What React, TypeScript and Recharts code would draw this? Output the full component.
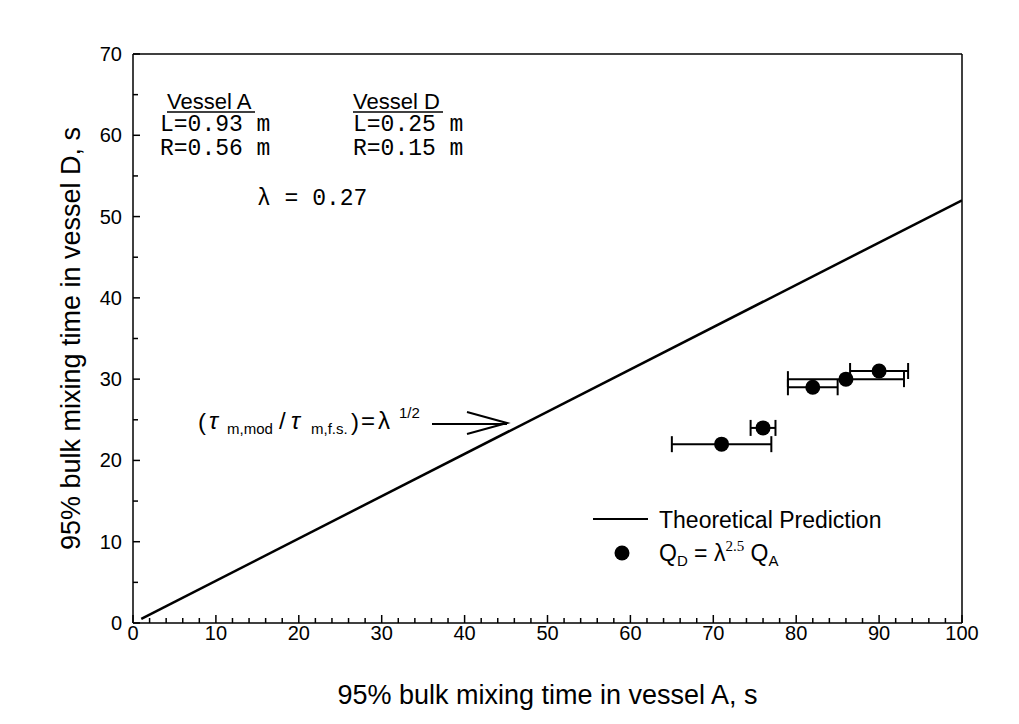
import {
  ComposedChart,
  Scatter,
  XAxis,
  YAxis,
  ErrorBar,
  Legend,
  Customized,
  ReferenceLine,
} from "recharts";

// measured points (vessel A time vs vessel D time)
const timeA = [71, 76, 82, 86, 90];
const timeD = [22, 24, 29, 30, 31];
const timeALow = [65, 74.5, 79, 79, 86.5];
const timeAHigh = [77, 77.5, 85, 93, 93.5];

// theoretical prediction line
const theoryA = [1, 100];
const theoryD = [0.52, 52];

const xMajor = [0, 10, 20, 30, 40, 50, 60, 70, 80, 90, 100];
const yMajor = [0, 10, 20, 30, 40, 50, 60, 70];
const xTicks = Array.from({ length: 51 }, (_, i) => i * 2);
const yTicks = Array.from({ length: 15 }, (_, i) => i * 5);

const points = timeA.map((a, i) => ({
  a,
  d: timeD[i],
  err: [a - timeALow[i], timeAHigh[i] - a],
}));
const theory = theoryA.map((a, i) => ({ a, d: theoryD[i] }));

const FONT = "'Liberation Sans', Arial, sans-serif";
const MONO = "'Liberation Mono', 'Courier New', monospace";

const W = 1003;
const H = 708;
const M = { top: 46, right: 49, bottom: 0, left: 0 };
const Y_AXIS_W = 125;
const X_AXIS_H = 93;
const AXIS_X = M.left + Y_AXIS_W;
const AXIS_Y = H - M.bottom - X_AXIS_H;

function XTick({ x, payload }: any) {
  const v = payload.value;
  const major = xMajor.includes(v);
  return (
    <g>
      <line x1={x} x2={x} y1={AXIS_Y} y2={AXIS_Y - (major ? 8 : 5)} stroke="#000" strokeWidth={1.5} />
      {major && (
        <text x={x} y={AXIS_Y + 17} textAnchor="middle" fontSize={20} fill="#000">
          {v}
        </text>
      )}
    </g>
  );
}

function YTick({ y, payload }: any) {
  const v = payload.value;
  const major = yMajor.includes(v);
  return (
    <g>
      <line x1={AXIS_X} x2={AXIS_X + (major ? 7 : 5)} y1={y} y2={y} stroke="#000" strokeWidth={1.5} />
      {major && (
        <text x={AXIS_X - 11} y={y + 7} textAnchor="end" fontSize={20} fill="#000">
          {v}
        </text>
      )}
    </g>
  );
}

function Annotations() {
  return (
    <g fill="#000">
      <text x={159} y={101} fontSize={22} fontFamily={FONT}>Vessel A</text>
      <line x1={159} x2={247} y1={104} y2={104} stroke="#000" strokeWidth={1.5} />
      <text x={345} y={101} fontSize={22} fontFamily={FONT}>Vessel D</text>
      <line x1={345} x2={435} y1={104} y2={104} stroke="#000" strokeWidth={1.5} />
      <text x={152} y={123} fontSize={23} fontFamily={MONO}>L=0.93 m</text>
      <text x={152} y={147} fontSize={23} fontFamily={MONO}>R=0.56 m</text>
      <text x={345} y={123} fontSize={23} fontFamily={MONO}>L=0.25 m</text>
      <text x={345} y={147} fontSize={23} fontFamily={MONO}>R=0.15 m</text>
      <text x={249} y={197} fontSize={23} fontFamily={MONO}>λ = 0.27</text>

      <g fontFamily={FONT}>
        <text x={190} y={422} fontSize={24}>(</text>
        <text x={201} y={421} fontSize={24} fontStyle="italic">τ</text>
        <text x={219} y={426} fontSize={15}>m,mod</text>
        <text x={271} y={421} fontSize={24}>/</text>
        <text x={283} y={421} fontSize={24} fontStyle="italic">τ</text>
        <text x={303} y={426} fontSize={15}>m,f.s.</text>
        <text x={343} y={422} fontSize={24}>)</text>
        <text x={353} y={421} fontSize={24}>=</text>
        <text x={370} y={421} fontSize={24}>λ</text>
        <text x={391} y={410} fontSize={15}>1/2</text>
      </g>
      <line x1={424} x2={499} y1={416} y2={416} stroke="#000" strokeWidth={2} />
      <polyline points="459,404 499,415 459,426" fill="none" stroke="#000" strokeWidth={2} />
    </g>
  );
}

function LegendBox() {
  return (
    <svg width={320} height={70} style={{ fontFamily: FONT }}>
      <line x1={3} x2={58} y1={14} y2={14} stroke="#000" strokeWidth={2} />
      <text x={69} y={23} fontSize={23} fill="#000">Theoretical Prediction</text>
      <circle cx={32} cy={48} r={7.5} fill="#000" />
      <text x={69} y={56} fontSize={23} fill="#000">
        Q<tspan fontSize={15} dy={5}>D</tspan>
        <tspan dy={-5}> = λ</tspan>
        <tspan fontSize={15} dy={-10} fontFamily="'Liberation Serif', serif">2.5</tspan>
        <tspan dy={10}> Q</tspan>
        <tspan fontSize={15} dy={5}>A</tspan>
      </text>
    </svg>
  );
}

const noDot = () => <g />;

export default function App() {
  return (
    <div style={{ width: W, height: H, fontFamily: FONT, background: "#fff" }}>
      <ComposedChart width={W} height={H} margin={M}>
        <XAxis
          dataKey="a"
          type="number"
          domain={[0, 100]}
          ticks={xTicks}
          interval={0}
          tickSize={0}
          tickMargin={0}
          tick={<XTick />}
          height={X_AXIS_H}
          axisLine={{ stroke: "#000", strokeWidth: 1.5 }}
          allowDataOverflow
          label={{
            value: "95% bulk mixing time in vessel A, s",
            position: "insideBottom",
            offset: 12,
            fontSize: 27,
            fill: "#000",
          }}
        />
        <YAxis
          dataKey="d"
          type="number"
          domain={[0, 70]}
          ticks={yTicks}
          interval={0}
          tickSize={0}
          tickMargin={0}
          tick={<YTick />}
          width={Y_AXIS_W}
          axisLine={{ stroke: "#000", strokeWidth: 1.5 }}
          allowDataOverflow
          label={{
            value: "95% bulk mixing time in vessel D, s",
            angle: -90,
            position: "center",
            fontSize: 27,
            fill: "#000",
          }}
        />
        <ReferenceLine x={100} stroke="#000" strokeWidth={1.5} />
        <ReferenceLine y={70} stroke="#000" strokeWidth={1.5} />
        <Scatter
          data={theory}
          line={{ stroke: "#000", strokeWidth: 2.5 }}
          shape={noDot}
          isAnimationActive={false}
        />
        <Scatter
          data={points}
          fill="#000"
          isAnimationActive={false}
          shape={(p: any) => <circle cx={p.cx} cy={p.cy} r={7.5} fill="#000" />}
        >
          <ErrorBar dataKey="err" direction="x" width={8} strokeWidth={2} stroke="#000" />
        </Scatter>
        <Customized component={<Annotations />} />
        <Legend
          layout="vertical"
          align="center"
          verticalAlign="middle"
          wrapperStyle={{ left: 582, top: 497, width: 320 }}
          content={() => <LegendBox />}
        />
      </ComposedChart>
    </div>
  );
}
